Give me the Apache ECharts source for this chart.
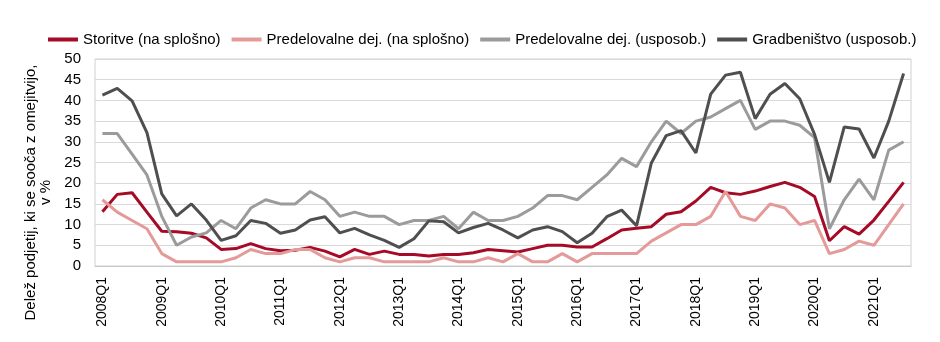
<!DOCTYPE html>
<html>
<head>
<meta charset="utf-8">
<script src="https://cdn.jsdelivr.net/npm/echarts@6/dist/echarts.min.js"></script>
<style>html,body{margin:0;padding:0;background:#fff}#c{width:940px;height:342px}</style>
</head>
<body>
<div id="c"></div>
<script>
var categories = [
 '2008Q1','2008Q2','2008Q3','2008Q4','2009Q1','2009Q2','2009Q3','2009Q4',
 '2010Q1','2010Q2','2010Q3','2010Q4','2011Q1','2011Q2','2011Q3','2011Q4',
 '2012Q1','2012Q2','2012Q3','2012Q4','2013Q1','2013Q2','2013Q3','2013Q4',
 '2014Q1','2014Q2','2014Q3','2014Q4','2015Q1','2015Q2','2015Q3','2015Q4',
 '2016Q1','2016Q2','2016Q3','2016Q4','2017Q1','2017Q2','2017Q3','2017Q4',
 '2018Q1','2018Q2','2018Q3','2018Q4','2019Q1','2019Q2','2019Q3','2019Q4',
 '2020Q1','2020Q2','2020Q3','2020Q4','2021Q1','2021Q2','2021Q3'
];
var seriesNames = ['Storitve (na splošno)','Predelovalne dej. (na splošno)','Predelovalne dej. (usposob.)','Gradbeništvo (usposob.)'];
var storitve = [13.1,17.3,17.7,13.0,8.4,8.3,7.9,6.8,4.0,4.2,5.4,4.2,3.7,3.8,4.5,
 3.6,2.2,4.0,2.8,3.6,2.8,2.8,2.4,2.8,2.8,3.2,4.0,3.7,
 3.4,4.2,5.0,5.0,4.6,4.6,6.6,8.7,9.1,9.5,12.5,13.1,15.7,19.0,
 17.7,17.3,18.1,19.2,20.2,19.0,16.8,6.1,9.5,7.7,11.1,15.6,20.2];
var predelovalneSplosno = [16,13,11,9,3,1,1,1,1,2,4,3,3,4,4,
 2,1,2,2,1,1,1,1,2,1,1,2,1,
 3,1,1,3,1,3,3,3,3,6,8,10,10,12,
 18,12,11,15,14,10,11,3,4,6,5,10,15];
var predelovalneUsposob = [32,32,27,22,12,5,7,8,11,9,14,16,15,15,18,
 16,12,13,12,12,10,11,11,12,9,13,11,11,
 12,14,17,17,16,19,22,26,24,30,35,32,35,36,
 38,40,33,35,35,34,31,9,16,21,16,28,30];
var gradbenistvo = [41.3,42.9,39.9,32.2,17.4,12.1,15.0,11.1,6.2,7.3,11.0,10.3,7.9,8.7,11.1,
 11.9,8.0,9.1,7.5,6.2,4.5,6.6,10.9,10.7,8.0,9.3,10.3,8.7,
 6.8,8.7,9.5,8.3,5.6,7.9,11.9,13.5,9.7,24.9,31.5,32.7,27.3,41.5,
 46.1,46.8,35.6,41.5,44.1,40.4,31.8,20.2,33.6,33.1,26.1,35.0,46.5];
var colors = ['#a50b26','#e39a98','#9b9b9b','#4f4f4f'];
var allData = [storitve, predelovalneSplosno, predelovalneUsposob, gradbenistvo];
var font = 'Liberation Sans, Arial, sans-serif';

var chart = echarts.init(document.getElementById('c'), null, {renderer:'canvas'});
chart.setOption({
  animation:false,
  color: colors,
  textStyle:{fontFamily:font},
  legend:{
    top:27, left:43, itemGap:11, itemWidth:30, itemHeight:4, icon:'rect',
    textStyle:{fontFamily:font, fontSize:15, color:'#000'},
    data: seriesNames
  },
  grid:{left:95, right:29, top:59, bottom:76, show:true, borderColor:'#d0d0d0', borderWidth:1},
  xAxis:{
    type:'category', data:categories, boundaryGap:true,
    axisLine:{show:true, lineStyle:{color:'#c8c8c8'}},
    axisTick:{show:false},
    axisLabel:{interval:3, rotate:90, fontSize:14, color:'#000', fontFamily:font, margin:11}
  },
  yAxis:{
    type:'value', min:0, max:50, interval:5,
    name:'Delež podjetij, ki se sooča z omejitvijo,\nv %',
    nameLocation:'middle', nameGap:38, nameRotate:90,
    nameTextStyle:{fontSize:15, color:'#000', fontFamily:font, lineHeight:15, padding:[0,60,0,0]},
    axisLine:{show:false}, axisTick:{show:false},
    axisLabel:{fontSize:15, color:'#000', fontFamily:font, margin:14},
    splitLine:{lineStyle:{color:'#d9d9d9', width:1}}
  },
  series: seriesNames.map(function(n,i){
    return {name:n, type:'line', data:allData[i], symbol:'none', lineStyle:{width:3, color:colors[i]}, itemStyle:{color:colors[i]}};
  })
});
</script>
</body>
</html>
